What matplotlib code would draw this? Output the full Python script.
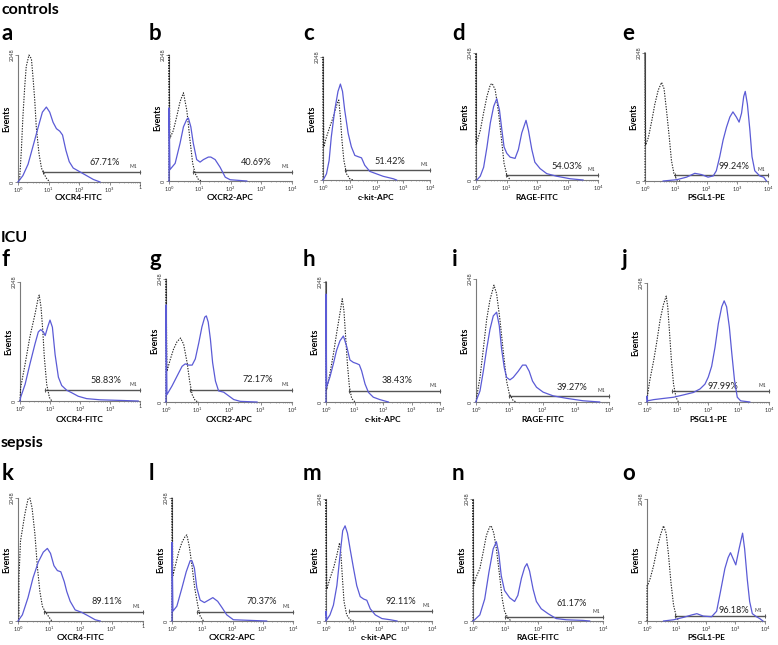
import numpy as np
import matplotlib
matplotlib.use('Agg')
import matplotlib.pyplot as plt

plt.rcParams['font.family'] = ['Lato', 'DejaVu Sans']

# ---------------- data ----------------
GROUPS = ['controls', 'ICU', 'sepsis']
LETTERS = list('abcdefghijklmno')
MARKERS = ['CXCR4-FITC', 'CXCR2-APC', 'c-kit-APC', 'RAGE-FITC', 'PSGL1-PE']
PERCENTS = ['67.71%', '40.69%', '51.42%', '54.03%', '99.24%',
            '58.83%', '72.17%', '38.43%', '39.27%', '97.99%',
            '89.11%', '70.37%', '92.11%', '61.17%', '96.18%']
# M1 gate start (log decades)
GATE_START = [0.82, 0.79, 0.81, 0.99, 0.97,
              0.83, 0.77, 0.82, 1.00, 0.82,
              0.84, 0.82, 0.85, 0.97, 0.96]
FULL_SCALE = 2048
LAST_TICK = ['1', '10$^{4}$', '10$^{4}$', '10$^{4}$', '10$^{4}$']

# curves: x in log decades, y as fraction of the 2048-event full scale
a_iso_x = [0, .05, .11, .16, .22, .27, .36, .44, .49, .55, .60, .69, .77, .82, .93, 1.04]
a_iso_y = [0, .01, .25, .51, .75, .91, 1.0, .97, .83, .64, .43, .22, .11, .08, .03, 0]
a_pos_x = [0, .16, .33, .49, .66, .80, .93, 1.04, 1.15, 1.26, 1.37, 1.46, 1.57, 1.68, 1.81, 2.03, 2.25, 2.47, 2.69]
a_pos_y = [0, .05, .14, .28, .43, .55, .59, .55, .47, .42, .40, .37, .25, .16, .11, .08, .05, .02, 0]

b_iso_x = [0, 0, .03, .14, .25, .36, .47, .58, .68, .77, .85, .96, 1.07]
b_iso_y = [0, 1.0, .34, .40, .51, .63, .70, .56, .33, .14, .06, .01, 0]
b_pos_x = [0, 0, .03, .20, .36, .47, .58, .63, .71, .79, .90, 1.01, 1.12, 1.28, 1.36, 1.50, 1.66, 1.83, 1.99, 2.53]
b_pos_y = [0, .58, .09, .14, .30, .43, .49, .50, .43, .30, .17, .15, .17, .19, .19, .17, .11, .03, .01, 0]

c_iso_x = [0, 0, .03, .13, .25, .38, .50, .56, .59, .65, .71, .78, .88, 1.0, 1.13]
c_iso_y = [0, 1.0, .27, .35, .43, .51, .60, .64, .65, .51, .32, .16, .05, .01, 0]
c_pos_x = [0, .03, .13, .23, .31, .44, .56, .65, .73, .81, .94, 1.06, 1.19, 1.31, 1.44, 1.56, 1.75, 2.0, 2.25, 2.63, 2.75]
c_pos_y = [0, .01, .05, .16, .35, .57, .72, .78, .72, .57, .38, .27, .20, .19, .18, .12, .07, .05, .03, .01, 0]

d_iso_x = [0, 0, .01, .14, .25, .36, .47, .53, .63, .74, .85, .92, 1.01, 1.12]
d_iso_y = [0, 1.0, .28, .39, .53, .66, .75, .76, .71, .53, .29, .13, .04, 0]
d_pos_x = [.03, .14, .25, .36, .47, .58, .68, .77, .85, .92, 1.01, 1.12, 1.28, 1.39, 1.50, 1.64, 1.72, 1.83, 1.93, 2.10, 2.32, 2.64, 3.08, 3.51]
d_pos_y = [0, .03, .10, .26, .45, .58, .64, .55, .39, .26, .21, .18, .17, .24, .37, .47, .39, .24, .14, .09, .05, .03, .01, 0]

e_iso_x = [0, 0, .02, .11, .22, .32, .43, .54, .62, .70, .79, .86, .94, 1.03, 1.14]
e_iso_y = [0, 1.0, .28, .34, .47, .60, .71, .77, .72, .55, .34, .16, .06, .01, 0]
e_pos_x = [.59, .81, 1.03, 1.35, 1.62, 1.84, 2.05, 2.22, 2.32, 2.43, 2.54, 2.65, 2.76, 2.86, 2.97, 3.06, 3.14, 3.21, 3.26, 3.33, 3.41, 3.48, 3.57, 3.73, 3.86, 3.95]
e_pos_y = [0, .005, .01, .03, .06, .05, .03, .04, .08, .19, .32, .42, .50, .54, .50, .46, .53, .66, .70, .60, .40, .19, .08, .04, .03, 0]

f_iso_x = [0, .02, .17, .33, .50, .61, .64, .70, .76, .81, .89, .98, 1.06]
f_iso_y = [0, .11, .31, .54, .73, .87, .89, .79, .59, .37, .14, .03, 0]
f_pos_x = [0, .02, .17, .33, .50, .61, .69, .78, .84, .92, 1.0, 1.08, 1.17, 1.28, 1.39, 1.56, 1.72, 1.94, 2.22, 2.67, 3.33, 3.94]
f_pos_y = [0, .03, .14, .31, .48, .58, .60, .58, .55, .62, .68, .62, .39, .20, .13, .09, .07, .04, .02, .01, .005, 0]

g_iso_x = [0, 0, .03, .14, .24, .35, .46, .56, .67, .75, .83, .93, 1.04]
g_iso_y = [0, 1.0, .25, .35, .43, .49, .52, .47, .32, .17, .06, .01, 0]
g_pos_x = [0, 0, .03, .19, .35, .51, .61, .72, .83, .93, 1.04, 1.14, 1.23, 1.28, 1.34, 1.41, 1.48, 1.57, 1.67, 1.83, 1.99, 2.15, 2.36, 2.89]
g_pos_y = [0, .79, .06, .13, .21, .29, .31, .30, .30, .35, .48, .61, .69, .70, .65, .51, .32, .17, .09, .08, .05, .02, .005, 0]

h_iso_x = [0, 0, .02, .14, .26, .37, .49, .57, .63, .69, .75, .82, .90, 1.02]
h_iso_y = [0, 1.0, .10, .24, .40, .57, .74, .86, .76, .54, .32, .13, .03, 0]
h_pos_x = [0, 0, .02, .14, .26, .37, .49, .61, .73, .84, .96, 1.08, 1.17, 1.25, 1.37, 1.49, 1.66, 1.89, 2.19]
h_pos_y = [0, .90, .125, .21, .32, .43, .51, .55, .46, .35, .33, .32, .31, .26, .15, .08, .04, .02, 0]

i_iso_x = [0, .02, .12, .22, .32, .42, .54, .62, .72, .82, .92, 1.0, 1.12, 1.22]
i_iso_y = [0, .04, .20, .43, .67, .83, .95, .88, .67, .41, .17, .07, .01, 0]
i_pos_x = [0, .02, .12, .22, .32, .42, .52, .62, .70, .77, .85, .92, 1.02, 1.12, 1.27, 1.40, 1.50, 1.60, 1.70, 1.82, 2.02, 2.32, 2.72, 3.22, 3.72]
i_pos_y = [0, .02, .09, .25, .43, .59, .70, .73, .62, .43, .28, .20, .18, .20, .25, .30, .30, .25, .17, .12, .08, .05, .03, .01, 0]

j_iso_x = [0, .02, .09, .22, .33, .43, .54, .63, .68, .74, .80, .87, .95, 1.03]
j_iso_y = [0, .06, .18, .35, .52, .69, .82, .89, .80, .58, .35, .15, .04, 0]
j_pos_x = [0, 0, .02, .22, .54, .87, 1.20, 1.52, 1.74, 1.90, 2.01, 2.12, 2.23, 2.34, 2.45, 2.53, 2.61, 2.70, 2.78, 2.87, 2.96, 3.07, 3.37]
j_pos_y = [0, .05, .01, .02, .03, .04, .06, .08, .11, .15, .21, .30, .46, .66, .80, .85, .80, .63, .41, .18, .04, .01, 0]

k_iso_x = [0, .03, .03, .08, .22, .32, .38, .45, .54, .62, .70, .78, .86, .97, 1.08]
k_iso_y = [0, 0, .35, .65, .87, .99, 1.0, .92, .71, .44, .24, .12, .08, .04, 0]
k_pos_x = [0, .14, .32, .48, .65, .81, .94, 1.04, 1.15, 1.26, 1.37, 1.48, 1.56, 1.67, 1.83, 2.04, 2.26, 2.47, 2.63]
k_pos_y = [0, .05, .19, .35, .48, .56, .59, .55, .45, .41, .40, .32, .24, .16, .09, .07, .04, .01, 0]

l_iso_x = [0, 0, .03, .11, .22, .33, .44, .49, .57, .66, .75, .85, .93, 1.04]
l_iso_y = [0, 1.0, .37, .45, .56, .64, .69, .70, .61, .45, .27, .13, .04, 0]
l_pos_x = [0, 0, .03, .16, .33, .47, .60, .66, .74, .82, .93, 1.07, 1.21, 1.35, 1.51, 1.65, 1.81, 2.03, 2.58, 3.13]
l_pos_y = [0, .64, .08, .12, .27, .40, .49, .49, .43, .27, .17, .15, .17, .19, .16, .11, .05, .01, .005, 0]

m_iso_x = [0, 0, .03, .15, .28, .41, .51, .56, .62, .68, .78, .91, 1.04]
m_iso_y = [0, 1.0, .26, .35, .43, .54, .64, .56, .35, .16, .05, .01, 0]
m_pos_x = [0, 0, .03, .15, .28, .41, .53, .63, .72, .81, .91, 1.04, 1.16, 1.29, 1.42, 1.54, 1.67, 1.86, 2.11, 2.43, 2.68]
m_pos_y = [0, .08, .01, .05, .13, .29, .54, .74, .78, .72, .59, .43, .29, .20, .18, .17, .10, .05, .02, .01, 0]

n_iso_x = [0, 0, .02, .08, .21, .31, .41, .51, .56, .64, .72, .82, .90, .97, 1.08, 1.18]
n_iso_y = [0, 1.0, .29, .35, .43, .56, .70, .77, .78, .72, .59, .37, .18, .08, .02, 0]
n_pos_x = [0, .05, .21, .36, .49, .62, .72, .79, .87, .97, 1.13, 1.28, 1.38, 1.49, 1.59, 1.66, 1.74, 1.85, 1.95, 2.10, 2.31, 2.56, 2.87, 3.38, 3.59]
n_pos_y = [0, .01, .05, .18, .40, .59, .65, .56, .37, .25, .19, .16, .21, .35, .44, .47, .41, .26, .16, .10, .06, .02, .01, .005, 0]

o_iso_x = [0, 0, .02, .11, .22, .34, .45, .56, .65, .73, .81, .90, .99, 1.07]
o_iso_y = [0, .29, .29, .35, .45, .59, .70, .78, .72, .54, .32, .13, .04, 0]
o_pos_x = [.56, .90, 1.24, 1.52, 1.69, 1.91, 2.19, 2.36, 2.49, 2.64, 2.75, 2.83, 2.92, 3.01, 3.12, 3.24, 3.31, 3.40, 3.48, 3.57, 3.71, 3.82, 3.93]
o_pos_y = [0, .01, .03, .05, .06, .04, .035, .08, .24, .43, .52, .56, .51, .46, .59, .72, .59, .34, .16, .06, .035, .02, 0]

CURVES = [
    (a_iso_x, a_iso_y, a_pos_x, a_pos_y), (b_iso_x, b_iso_y, b_pos_x, b_pos_y),
    (c_iso_x, c_iso_y, c_pos_x, c_pos_y), (d_iso_x, d_iso_y, d_pos_x, d_pos_y),
    (e_iso_x, e_iso_y, e_pos_x, e_pos_y), (f_iso_x, f_iso_y, f_pos_x, f_pos_y),
    (g_iso_x, g_iso_y, g_pos_x, g_pos_y), (h_iso_x, h_iso_y, h_pos_x, h_pos_y),
    (i_iso_x, i_iso_y, i_pos_x, i_pos_y), (j_iso_x, j_iso_y, j_pos_x, j_pos_y),
    (k_iso_x, k_iso_y, k_pos_x, k_pos_y), (l_iso_x, l_iso_y, l_pos_x, l_pos_y),
    (m_iso_x, m_iso_y, m_pos_x, m_pos_y), (n_iso_x, n_iso_y, n_pos_x, n_pos_y),
    (o_iso_x, o_iso_y, o_pos_x, o_pos_y),
]

# ---------------- layout (pixels) ----------------
W, H = 778, 645
AX_PX = [  # left, bottom, right, top
    (18, 182, 140, 55), (169, 181, 292, 55), (323, 180, 430, 57), (476, 180, 598, 53), (645, 181, 768, 53),
    (20, 401, 140, 282), (166, 402, 292, 279), (326, 402, 440, 282), (476, 402, 609, 279), (647, 402, 769, 283),
    (18, 621, 143, 498), (172, 621, 293, 498), (326, 621, 432, 499), (473, 621, 603, 499), (647, 621, 765, 499),
]
GATE_Y = [0.08, 0.074, 0.08, 0.04, 0.045, 0.09, 0.10, 0.09, 0.05, 0.09, 0.075, 0.075, 0.08, 0.035, 0.04]
TEXT_X = [2.85, 2.84, 2.51, 2.98, 2.89, 2.87, 2.91, 2.48, 2.88, 2.48, 2.83, 2.96, 2.81, 3.05, 2.93]
TEXT_Y = [0.15, 0.15, 0.15, 0.105, 0.11, 0.175, 0.18, 0.18, 0.12, 0.13, 0.155, 0.155, 0.157, 0.14, 0.09]
LETTER_X = [2, 149, 303, 452, 622]
LETTER_BASE = [40, 266, 480]
GROUP_BASE = [14, 242, 447]
XLABEL_Y = [197, 419, 638]

BLUE = '#5b5bd6'
GREY = '#7a7a7a'

fig = plt.figure(figsize=(W / 100, H / 100), dpi=100)

for idx in range(15):
    row, col = divmod(idx, 5)
    l, b, r, t = AX_PX[idx]
    ax = fig.add_axes([l / W, 1 - b / H, (r - l) / W, (b - t) / H])
    iso_x, iso_y, pos_x, pos_y = CURVES[idx]
    ax.plot(10 ** np.array(iso_x), np.array(iso_y) * FULL_SCALE, color='#222222',
            lw=0.8, ls=(0, (1.2, 1.2)), clip_on=False, zorder=3)
    ax.plot(10 ** np.array(pos_x), np.array(pos_y) * FULL_SCALE, color=BLUE,
            lw=0.9, clip_on=False, zorder=4, solid_joinstyle='round')
    ax.set_xscale('log')
    ax.set_xlim(1, 1e4)
    ax.set_ylim(0, FULL_SCALE)
    for s in ('top', 'right'):
        ax.spines[s].set_visible(False)
    for s in ('left', 'bottom'):
        ax.spines[s].set_color(GREY)
        ax.spines[s].set_linewidth(0.8)
    ax.set_xticks([1, 10, 100, 1000, 10000])
    ax.set_xticklabels(['10$^{0}$', '10$^{1}$', '10$^{2}$', '10$^{3}$', LAST_TICK[col]])
    ax.set_yticks([0, FULL_SCALE])
    ax.set_yticklabels(['0', str(FULL_SCALE)], rotation=90, va='center')
    ax.tick_params(axis='both', which='major', length=2, width=0.6, color=GREY,
                   labelsize=4.0, pad=0.5, labelcolor='#333333')
    ax.tick_params(axis='x', which='minor', length=1, width=0.4, color=GREY)
    ax.xaxis.set_minor_formatter(plt.NullFormatter())
    # M1 gate
    gy = GATE_Y[idx] * FULL_SCALE
    gx0 = 10 ** GATE_START[idx]
    ax.plot([gx0, 1e4], [gy, gy], color='#555555', lw=1.0, clip_on=False, zorder=2)
    ax.plot([gx0, 1e4], [gy, gy], ls='none', marker='|', ms=2.5, mew=0.7,
            color='#555555', clip_on=False, zorder=2)
    ax.text(10 ** 3.78, gy + 0.025 * FULL_SCALE, 'M1', fontsize=3.6, ha='center',
            va='bottom', color='#333333')
    ax.text(10 ** TEXT_X[idx], TEXT_Y[idx] * FULL_SCALE, PERCENTS[idx], fontsize=6.6,
            ha='center', va='center', color='#222222')
    # labels
    fig.text((l + r) / 2 / W, 1 - XLABEL_Y[row] / H, MARKERS[col], fontsize=6.0,
             fontweight='bold', ha='center', va='center')
    fig.text((l - 11) / W, 1 - (b + t) / 2 / H, 'Events', fontsize=6.3,
             fontweight='bold', rotation=90, ha='center', va='center')
    fig.text(LETTER_X[col] / W, 1 - LETTER_BASE[row] / H, LETTERS[idx], fontsize=16,
             fontweight='bold', ha='left', va='baseline')

for g, base in zip(GROUPS, GROUP_BASE):
    fig.text(1 / W, 1 - base / H, g, fontsize=11.5, fontweight='bold', ha='left', va='baseline')

fig.savefig('out.png', dpi=100)
